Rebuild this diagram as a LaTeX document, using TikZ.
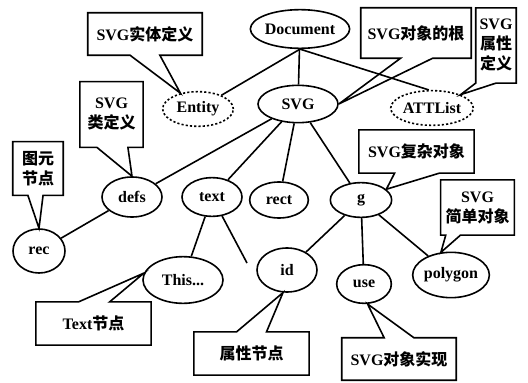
\documentclass[tikz,border=0pt]{standalone}
\usepackage{fontspec}
\setmainfont{Liberation Serif}
\newfontfamily\cjk{Noto Sans CJK SC}
\usetikzlibrary{shapes.geometric,calc}
\tikzset{
  elem/.style={ellipse, draw, line width=1.2pt, inner sep=0pt,
               font=\bfseries\fontsize{12}{14}\selectfont},
  attr/.style={elem, dash pattern=on 1.6pt off 1.6pt},
  sz/.style 2 args={minimum width=#1pt, minimum height=#2pt},
  note/.style={inner sep=0pt, align=center, font=\bfseries\fontsize{12}{15}\selectfont},
  notel/.style={line width=1.2pt, line join=miter},
  link/.style={line width=1.2pt},
}
% callout box with its pointer on the lower / upper side
\newcommand{\notedown}[4]{%
  \draw[notel] (#1.north west) -- (#1.north east) -- (#1.south east)
    -- ($(#1.south west)!#3!(#1.south east)$) -- (#4)
    -- ($(#1.south west)!#2!(#1.south east)$) -- (#1.south west) -- cycle;}
\newcommand{\noteup}[4]{%
  \draw[notel] (#1.south west) -- (#1.north west)
    -- ($(#1.north west)!#2!(#1.north east)$) -- (#4)
    -- ($(#1.north west)!#3!(#1.north east)$) -- (#1.north east) -- (#1.south east) -- cycle;}
\begin{document}
\begin{tikzpicture}[x=0.75pt, y=-0.75pt]
  \useasboundingbox (0,0) rectangle (528,382);
  % tree
  \node[elem, sz={73}{29}] (doc) at (300,29) {Document};
  \node[elem, sz={60}{28}] (svg) at (298,104) {SVG};
  \node[attr, sz={53}{26}] (entity) at (198,109) {Entity};
  \node[attr, sz={60}{26}] (attlist) at (432,108) {ATTList};
  \node[elem, sz={45}{30}] (defs) at (132,197) {defs};
  \node[elem, sz={45}{29}] (text) at (212,197) {text};
  \node[elem, sz={44}{27}] (rect) at (279,200) {rect};
  \node[elem, sz={46}{26}] (g) at (361,200) {g};
  \node[elem, sz={39}{33}] (rec) at (39,251) {rec};
  \node[elem, sz={60}{35}] (this) at (183,280) {This...};
  \node[elem, sz={45}{33}] (id) at (287,270) {id};
  \node[elem, sz={41}{29}] (use) at (364,284) {use};
  \node[elem, sz={49}{34}] (polygon) at (451,275) {polygon};
  \coordinate (textend) at (247,263);

  \draw[link] (doc) -- (svg);
  \draw[link] (doc.south) -- (entity);
  \draw[link] (doc.south) -- (attlist.100);
  \draw[link] (svg) -- (defs);
  \draw[link] (svg) -- (text);
  \draw[link] (svg) -- (rect);
  \draw[link] (svg) -- (g);
  \draw[link] (defs) -- (rec);
  \draw[link] (text) -- (this);
  \draw[link] (text) -- (textend);
  \draw[link] (g) -- (id);
  \draw[link] (g) -- (use);
  \draw[link] (g) -- (polygon);

  % callouts
  \node[note, sz={85.5}{31.5}] (nentity) at (145,34) {SVG{\cjk 实体定义}};
  \node[note, sz={82.5}{37.5}] (nroot) at (416,33) {SVG{\cjk 对象的根}};
  \node[note, sz={30}{56}] (nattr) at (496,45.5) {SVG\\{\cjk 属性}\\{\cjk 定义}};
  \node[note, sz={47}{49}] (nclass) at (111.5,114.5) {SVG\\{\cjk 类定义}};
  \node[note, sz={37.5}{40}] (nprim) at (38,168.5) {{\cjk 图元}\\{\cjk 节点}};
  \node[note, sz={86}{32}] (ncomplex) at (416.5,151.5) {SVG{\cjk 复杂对象}};
  \node[note, sz={55}{41}] (nsimple) at (477.5,207.5) {SVG\\{\cjk 简单对象}};
  \node[note, sz={86}{32}] (ntext) at (93.5,323.5) {Text{\cjk 节点}};
  \node[note, sz={86}{32}] (nattrnode) at (251.5,353.5) {{\cjk 属性节点}};
  \node[note, sz={85.5}{31.5}] (nimpl) at (399,359) {SVG{\cjk 对象实现}};

  \notedown{nentity}{0.37}{0.63}{entity.138}
  \notedown{nroot}{0.36}{0.65}{svg.east}
  \notedown{nattr}{0}{0.5}{attlist.25}
  \notedown{nclass}{0.27}{0.76}{defs.north}
  \notedown{nprim}{0.3}{0.6}{rec.north}
  \notedown{ncomplex}{0.31}{0.7}{g.23}
  \notedown{nsimple}{0.07}{0.27}{polygon.114}
  \noteup{ntext}{0.37}{0.64}{this.170}
  \noteup{nattrnode}{0.37}{0.63}{id.-100}
  \noteup{nimpl}{0.37}{0.63}{use.-80}
\end{tikzpicture}
\end{document}
